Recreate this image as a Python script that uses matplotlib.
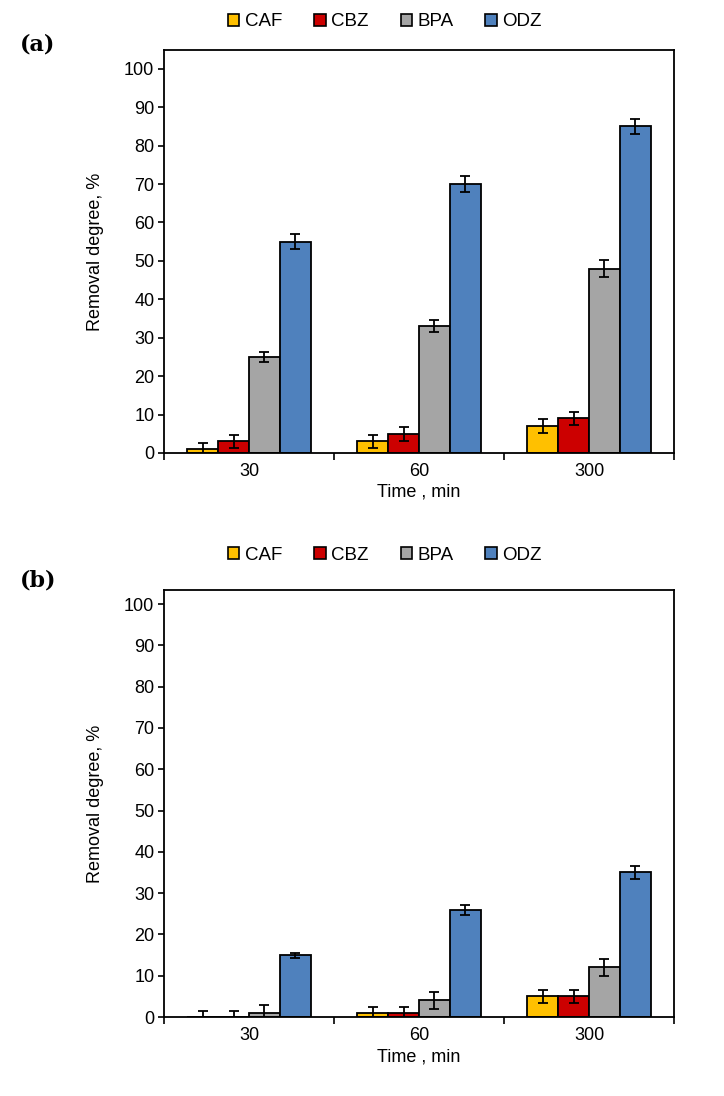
import numpy as np
import matplotlib
matplotlib.use("Agg")
from matplotlib import pyplot as plt
from matplotlib.patches import Patch

times = ["30", "60", "300"]
compounds = ["CAF", "CBZ", "BPA", "ODZ"]
colors = ["#FFC000", "#CC0000", "#A5A5A5", "#4F81BD"]

# panel (a)
a_vals = {"CAF": [1, 3, 7], "CBZ": [3, 5, 9], "BPA": [25, 33, 48], "ODZ": [55, 70, 85]}
a_errs = {"CAF": [1.7, 1.7, 1.8], "CBZ": [1.7, 1.8, 1.8], "BPA": [1.2, 1.5, 2.3], "ODZ": [2.0, 2.0, 2.0]}

# panel (b)
b_vals = {"CAF": [0, 1, 5], "CBZ": [0, 1, 5], "BPA": [1, 4, 12], "ODZ": [15, 26, 35]}
b_errs = {"CAF": [1.5, 1.5, 1.5], "CBZ": [1.5, 1.5, 1.5], "BPA": [2.0, 2.0, 2.0], "ODZ": [0.6, 1.2, 1.5]}

plt.rcParams["font.family"] = ["Liberation Sans", "DejaVu Sans"]

fig = plt.figure(figsize=(7.24, 10.96), dpi=100)
W, H = 724, 1096
L, R = 164, 674


def draw_panel(top, bottom, vals, errs, ytop, letter, letter_y, legend_y, xlab_top):
    ax = fig.add_axes([L / W, 1 - bottom / H, (R - L) / W, (bottom - top) / H])
    x = np.arange(len(times))
    w = 0.182
    for i, c in enumerate(compounds):
        ax.bar(x + (i - 1.5) * w, vals[c], w, color=colors[i], edgecolor="black",
               linewidth=1.3, yerr=errs[c], capsize=3.5,
               error_kw={"elinewidth": 1.3, "capthick": 1.3, "ecolor": "black"},
               zorder=2)
    ax.set_xlim(-0.5, 2.5)
    ax.set_ylim(0, ytop)
    ax.set_yticks(range(0, 101, 10))
    ax.set_xticks(x)
    ax.set_xticklabels(times)
    ax.tick_params(axis="x", length=0, labelsize=13, pad=7)
    ax.set_xticks([-0.5, 0.5, 1.5, 2.5], minor=True)
    ax.tick_params(axis="x", which="minor", length=5, width=1.2, direction="out")
    ax.tick_params(axis="y", length=4, width=1.2, labelsize=13, direction="out", pad=3)
    for s in ax.spines.values():
        s.set_linewidth(1.3)
    ax.set_ylabel("Removal degree, %", fontsize=13)
    ax.yaxis.set_label_coords((104 - L) / (R - L), 0.5)
    ax.set_xlabel("Time , min", fontsize=13)
    ax.xaxis.set_label_coords(0.5, (bottom - xlab_top) / (bottom - top))
    fig.text(20 / W, 1 - letter_y / H, letter, fontsize=16, fontweight="bold",
             family="DejaVu Serif", va="center")
    handles = [Patch(facecolor=colors[i], edgecolor="black", linewidth=1.2) for i in range(4)]
    fig.legend(handles, compounds, loc="center", bbox_to_anchor=(385 / W, 1 - legend_y / H),
               ncol=4, frameon=False, fontsize=13.5, handlelength=0.6, handleheight=0.6,
               handletextpad=0.3, columnspacing=1.7)
    return ax


draw_panel(50, 453, a_vals, a_errs, 104.9, "(a)", 45, 22, 484)
draw_panel(590, 1017, b_vals, b_errs, 103.4, "(b)", 580, 555, 1048)

fig.savefig("out.png", dpi=100)
